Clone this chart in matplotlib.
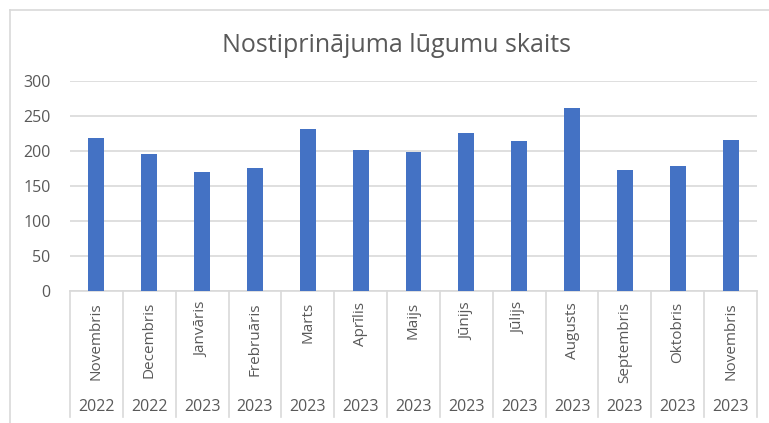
import matplotlib.pyplot as plt
from matplotlib.transforms import blended_transform_factory

plt.rcParams['font.family'] = ['Open Sans', 'DejaVu Sans']

months = ["Novembris", "Decembris", "Janvāris", "Frebruāris", "Marts", "Aprīlis",
          "Maijs", "Jūnijs", "Jūlijs", "Augusts", "Septembris", "Oktobris", "Novembris"]
years = ["2022", "2022", "2023", "2023", "2023", "2023",
         "2023", "2023", "2023", "2023", "2023", "2023", "2023"]
values = [219, 195, 170, 176, 231, 202, 199, 226, 214, 261, 173, 178, 216]

W, H = 769, 423
fig = plt.figure(figsize=(W / 100, H / 100), dpi=100)

# plot area in pixels
left, right, top, bottom = 70, 757, 81, 291
ax = fig.add_axes([left / W, 1 - bottom / H, (right - left) / W, (bottom - top) / H])

grey = "#D9D9D9"
txt = "#595959"

x = list(range(len(values)))
ax.bar(x, values, width=0.30, color="#4472C4", zorder=3)
ax.set_xlim(-0.5, len(values) - 0.5)
ax.set_ylim(0, 300)
ax.set_yticks(range(0, 301, 50))
ax.yaxis.grid(True, color=grey, linewidth=1.2, zorder=0)
ax.tick_params(axis='y', length=0, labelsize=11.5, colors=txt, pad=14)
ax.set_xticks([])
for s in ["top", "right", "left"]:
    ax.spines[s].set_visible(False)
ax.spines["bottom"].set_color(grey)
ax.spines["bottom"].set_linewidth(1.2)

# multi-level category axis
tr = blended_transform_factory(ax.transData, ax.transAxes)
px = 1 / (bottom - top)
sep_bottom = -(417 - bottom) * px
for i in range(len(values) + 1):
    ax.plot([i - 0.5, i - 0.5], [0, sep_bottom], transform=tr, color=grey,
            linewidth=1.2, clip_on=False)
for i, (m, y) in enumerate(zip(months, years)):
    ax.text(i, -(302 - bottom) * px, m, transform=tr, rotation=90, ha="center",
            va="top", fontsize=11, color=txt)
    ax.text(i, -(407 - bottom) * px, y, transform=tr, ha="center", va="center",
            fontsize=11.5, color=txt)

# title
fig.text(397 / W, 1 - 45 / H, "Nostiprinājuma lūgumu skaits", ha="center",
         va="center", fontsize=18, color=txt)

# chart border (left and top)
fig.add_artist(plt.Line2D([9.5 / W, 9.5 / W], [0, 1 - 10 / H], color=grey, linewidth=1.2))
fig.add_artist(plt.Line2D([9.5 / W, 1], [1 - 10 / H, 1 - 10 / H], color=grey, linewidth=1.2))

fig.savefig("out.png", dpi=100)
